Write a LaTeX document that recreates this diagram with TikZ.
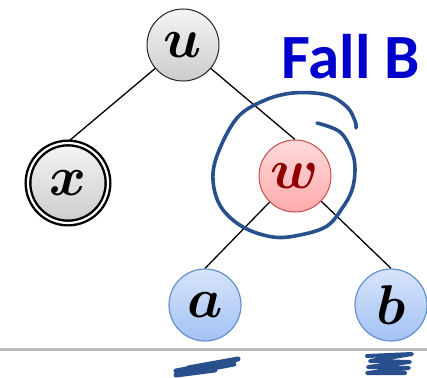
\documentclass[tikz,border=0pt]{standalone}
\usepackage{graphicx}
\usepackage{fontspec}
\usepackage{bm}
\newfontfamily\headfont{Carlito}
\usetikzlibrary{backgrounds}
\definecolor{ink}{RGB}{40,80,140}
\definecolor{headblue}{RGB}{0,0,205}
\definecolor{redborder}{RGB}{192,80,77}
\definecolor{redletter}{RGB}{140,0,0}
\definecolor{redtop}{RGB}{255,218,218}
\definecolor{redbot}{RGB}{255,170,170}
\definecolor{blueborder}{RGB}{100,145,205}
\definecolor{bluetop}{RGB}{214,228,250}
\definecolor{bluebot}{RGB}{164,194,244}
% vertex label: bold italic math letter, enlarged
\newcommand{\vlabel}[1]{\scalebox{2.7}{\huge$\bm{#1}$}}
\begin{document}
\begin{tikzpicture}[x=1pt,y=-1pt,
  vert/.style={circle, minimum size=72pt, inner sep=0pt},
  grayvert/.style={vert, draw=black!85, line width=1pt,
                   top color=gray!8, bottom color=gray!40},
  finalvert/.style={vert, minimum size=80pt, draw=black, line width=2.4pt,
                    double=white, double distance=2.2pt,
                    top color=gray!8, bottom color=gray!40},
  redvert/.style={vert, draw=redborder, line width=1pt,
                  top color=redtop, bottom color=redbot},
  bluevert/.style={vert, draw=blueborder, line width=1.2pt,
                   top color=bluetop, bottom color=bluebot},
  edge/.style={draw=black, line width=1.3pt},
  scribble/.style={draw=ink, line width=4pt, line cap=round, line join=round},
]
\useasboundingbox (0,0) rectangle (427,377);

% tree vertices
\node[grayvert]  (u) at (183,45)  {\vlabel{u}};
\node[finalvert] (x) at (68,183)  {\vlabel{x}};
\node[redvert]   (w) at (295,176) {\color{redletter}\vlabel{w}};
\node[bluevert]  (a) at (205,305) {\vlabel{a}};
\node[bluevert]  (b) at (391,305) {\vlabel{b}};

% tree edges, behind the vertices
\begin{pgfonlayer}{background}
  \draw[edge] (u.center) -- (x.north);
  \draw[edge] (u.center) -- (w.north);
  \draw[edge] (w.center) -- (a.north);
  \draw[edge] (w.center) -- (b.north);
\end{pgfonlayer}

% caption
\node[anchor=base west, inner sep=0pt, text=headblue,
      font=\headfont\bfseries\fontsize{63}{63}\selectfont] (title) at (281,78) {Fall B};

% baseline rule
\coordinate (ruleL) at (0,349);
\coordinate (ruleR) at (427,349);
\draw[line width=3pt, color=black!27] (ruleL) -- (ruleR);

% hand-drawn spiral around w
\draw[scribble, line width=3.6pt] plot[smooth, tension=0.6] coordinates {
  (317,123) (340,132) (352,152) (355,170) (352,190) (343,207) (327,226)
  (300,235) (273,237) (243,227) (221,207) (213,180) (218,153) (237,118)
  (263,101) (293,93) (327,95) (347,107) (355,121) (356,128)};

% hand-drawn marks under the leaves
\draw[scribble, line width=5pt] (176,371) -- (238,359) -- (188,368) -- (234,364) -- (176,375) -- (215,370);
\draw[scribble] (367,356) -- (412,354) -- (370,361) -- (410,362) -- (368,367) -- (409,368) -- (367,373) -- (405,373);
\end{tikzpicture}
\end{document}
